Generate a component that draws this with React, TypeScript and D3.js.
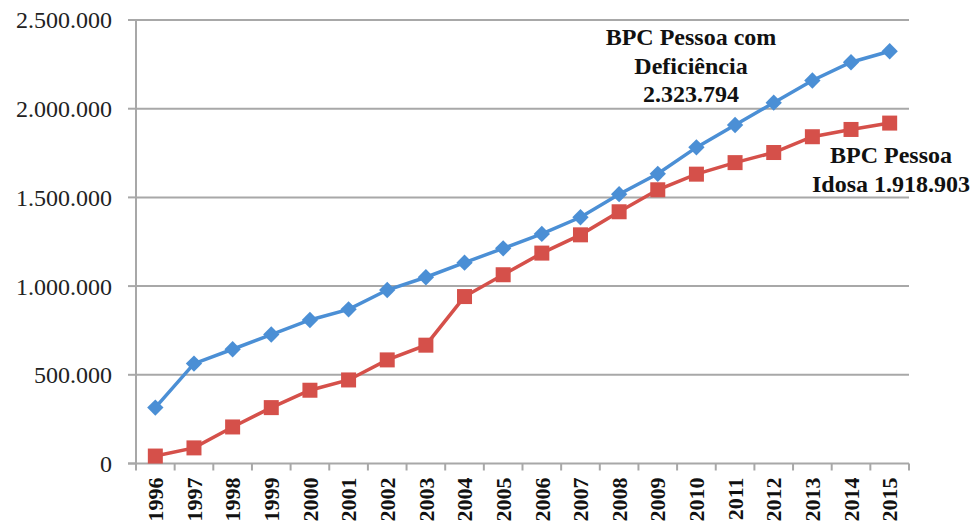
import React from "react";
import * as d3 from "d3";

const years = ["1996","1997","1998","1999","2000","2001","2002","2003","2004","2005","2006","2007","2008","2009","2010","2011","2012","2013","2014","2015"];
const deficiencia = [315000, 563000, 644000, 727000, 809000, 869000, 978000, 1050000, 1132000, 1213000, 1294000, 1388000, 1518000, 1633000, 1782000, 1908000, 2034000, 2159000, 2262000, 2323794];
const idosa = [42000, 88000, 206000, 315000, 413000, 471000, 584000, 667000, 941000, 1064000, 1186000, 1289000, 1419000, 1543000, 1631000, 1696000, 1753000, 1842000, 1883000, 1918903];
const yTicks = [0, 500000, 1000000, 1500000, 2000000, 2500000];
const annotationDef = ["BPC Pessoa com", "Deficiência", "2.323.794"];
const annotationIdosa = ["BPC Pessoa", "Idosa 1.918.903"];

const W = 978, H = 522;
const BLUE = "#4b8fd5";
const RED = "#d5504a";
const GRID = "#a8a8a8";
const SERIF = "'Liberation Serif', 'Times New Roman', serif";

const locale = d3.formatLocale({ decimal: ",", thousands: ".", grouping: [3], currency: ["", ""] });
const fmt = locale.format(",d");

export default function App() {
  const x = d3.scaleBand<string>().domain(years).range([136, 909]).padding(0);
  const y = d3.scaleLinear().domain([0, 2500000]).range([463.5, 20]);
  const cx = (yr: string) => (x(yr) as number) + x.bandwidth() / 2;

  const line = d3.line<number>().x((_, i) => cx(years[i])).y((v) => y(v));
  const diamond = d3.symbol().type(d3.symbolDiamond2).size(170)();

  return (
    <svg width={W} height={H} style={{ position: "absolute", left: 0, top: 0, background: "#fff" }}>
      {yTicks.map((t) => (
        <g key={t}>
          {t > 0 && <line x1={136} x2={909} y1={y(t)} y2={y(t)} stroke={GRID} strokeWidth={2} />}
          <line x1={128} x2={136} y1={y(t)} y2={y(t)} stroke={GRID} strokeWidth={2} />
          <text x={112} y={y(t)} dy="0.35em" textAnchor="end" fontFamily={SERIF} fontSize={24} fill="#222">
            {fmt(t)}
          </text>
        </g>
      ))}
      <line x1={136} x2={136} y1={y(2500000)} y2={y(0)} stroke={GRID} strokeWidth={2} />
      <line x1={128} x2={909} y1={y(0)} y2={y(0)} stroke={GRID} strokeWidth={2} />
      {years.map((yr) => (
        <line key={"t" + yr} x1={x(yr) as number} x2={x(yr) as number} y1={y(0)} y2={y(0) + 7} stroke={GRID} strokeWidth={2} />
      ))}
      <line x1={909} x2={909} y1={y(0)} y2={y(0) + 7} stroke={GRID} strokeWidth={2} />
      {years.map((yr) => (
        <text
          key={"l" + yr}
          transform={`translate(${cx(yr)},${y(0) + 14}) rotate(-90)`}
          textAnchor="end"
          dy="0.35em"
          fontFamily={SERIF}
          fontWeight="bold"
          fontSize={22}
          fill="#111"
        >
          {yr}
        </text>
      ))}
      <path d={line(idosa) || ""} fill="none" stroke={RED} strokeWidth={3.5} />
      <path d={line(deficiencia) || ""} fill="none" stroke={BLUE} strokeWidth={3.5} />
      {idosa.map((v, i) => (
        <rect key={"r" + i} x={cx(years[i]) - 7.5} y={y(v) - 7.5} width={15} height={15} fill={RED} />
      ))}
      {deficiencia.map((v, i) => (
        <path key={"d" + i} d={diamond || ""} transform={`translate(${cx(years[i])},${y(v)})`} fill={BLUE} />
      ))}
      {annotationDef.map((s, i) => (
        <text key={"a" + i} x={691} y={45 + i * 28.5} textAnchor="middle" fontFamily={SERIF} fontWeight="bold" fontSize={24} fill="#111">
          {s}
        </text>
      ))}
      {annotationIdosa.map((s, i) => (
        <text key={"b" + i} x={891} y={163 + i * 29} textAnchor="middle" fontFamily={SERIF} fontWeight="bold" fontSize={24} fill="#111">
          {s}
        </text>
      ))}
    </svg>
  );
}
